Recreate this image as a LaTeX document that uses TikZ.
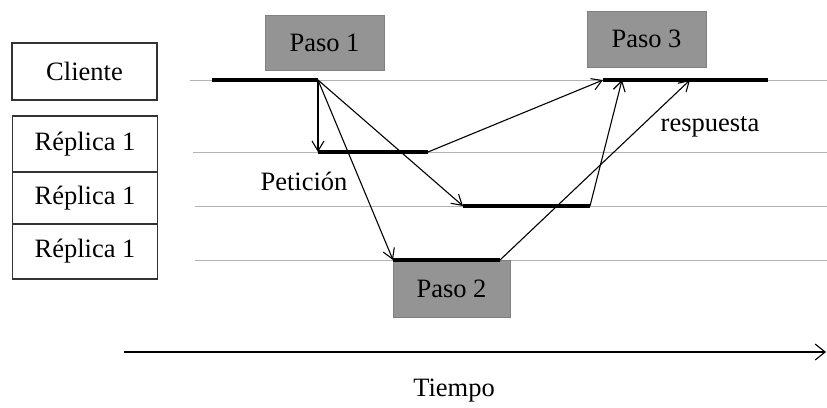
\documentclass[tikz,border=0pt]{standalone}
\usepackage{fontspec}
\setmainfont{Liberation Serif}
\usetikzlibrary{arrows.meta}
\begin{document}
\begin{tikzpicture}[x=1pt,y=-1pt,
  lbl/.style={font=\fontsize{26.5}{28}\selectfont, inner sep=0pt},
  rowbox/.style={draw=black!80, line width=1.3pt, minimum width=145pt, inner sep=0pt, font=\fontsize{26.5}{28}\selectfont},
  pasobox/.style={draw=black!50, fill=black!42, line width=0.8pt, inner sep=0pt, font=\fontsize{26.5}{28}\selectfont},
  tline/.style={draw=black!30, line width=1pt},
  busy/.style={draw=black, line width=3.5pt},
  msg/.style={draw=black, line width=1.1pt, -{Straight Barb[length=10pt,width=12pt]}}
]
\useasboundingbox (0,0) rectangle (827,407);
% left labels
\node[rowbox, minimum height=57pt] (cli) at (84.5,71.5) {Cliente};
\node[rowbox, minimum height=56pt] (r1) at (85,144) {Réplica 1};
\node[rowbox, minimum height=52pt] (r2) at (85,198) {Réplica 1};
\node[rowbox, minimum height=55pt] (r3) at (85,251.5) {Réplica 1};
% timeline endpoints
\coordinate (c0) at (190,80);  \coordinate (c9) at (827,80);
\coordinate (a0) at (193,152); \coordinate (a9) at (827,152);
\coordinate (b0) at (195,206); \coordinate (b9) at (827,206);
\coordinate (d0) at (195,260); \coordinate (d9) at (827,260);
\draw[tline] (c0) -- (c9);
\draw[tline] (a0) -- (a9);
\draw[tline] (b0) -- (b9);
\draw[tline] (d0) -- (d9);
% busy segments
\coordinate (cs1) at (212,80);  \coordinate (ce1) at (318,80);
\coordinate (cs2) at (603,80);  \coordinate (ce2) at (768,80);
\coordinate (as) at (318,152);  \coordinate (ae) at (428,152);
\coordinate (bs) at (463,206);  \coordinate (be) at (590,206);
\coordinate (ds) at (393,260);  \coordinate (de) at (500,260);
\coordinate (cr2) at (622,80);  \coordinate (cr3) at (690,80);
% step boxes
\node[pasobox, minimum width=119pt, minimum height=55pt] (p1) at (324.5,42.5) {Paso 1};
\node[pasobox, minimum width=119pt, minimum height=56pt] (p3) at (646.5,39) {Paso 3};
\node[pasobox, minimum width=117pt, minimum height=57pt] (p2) at (451.5,289) {Paso 2};
\draw[busy] (cs1) -- (ce1);
\draw[busy] (cs2) -- (ce2);
\draw[busy] (as) -- (ae);
\draw[busy] (bs) -- (be);
\draw[busy] (ds) -- (de);
% messages
\draw[msg] (ce1) -- (as);
\draw[msg] (ce1) -- (bs);
\draw[msg] (ce1) -- (ds);
\draw[msg] (ae) -- (cs2);
\draw[msg] (be) -- (cr2);
\draw[msg] (de) -- (cr3);
% labels
\node[lbl] (pet) at (304,181) {Petición};
\node[lbl] (resp) at (710,127) {respuesta};
% time axis
\coordinate (t0) at (124,352);
\coordinate (t1) at (826,352);
\draw[line width=1.1pt, -{Straight Barb[length=10pt,width=16pt]}] (t0) -- (t1);
\node[lbl] (tiempo) at (454,391) {Tiempo};
\end{tikzpicture}
\end{document}
